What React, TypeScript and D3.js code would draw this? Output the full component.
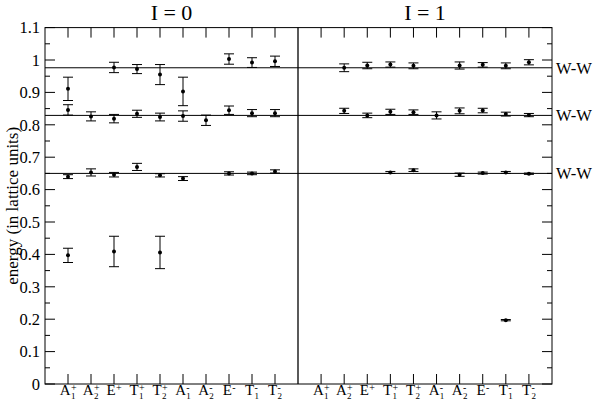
import React from "react";
import * as d3 from "d3";

const categories = ["A1+", "A2+", "E+", "T1+", "T2+", "A1-", "A2-", "E-", "T1-", "T2-"];
const catBase = ["A", "A", "E", "T", "T", "A", "A", "E", "T", "T"];
const catSup = ["+", "+", "+", "+", "+", "-", "-", "-", "-", "-"];
const catSub = ["1", "2", "", "1", "2", "1", "2", "", "1", "2"];

const panelTitles = ["I = 0", "I = 1"];
const wwLevels = [0.976, 0.829, 0.65];
const wwLabel = "W-W";
const yTicks = [0, 0.1, 0.2, 0.3, 0.4, 0.5, 0.6, 0.7, 0.8, 0.9, 1, 1.1];
const yTickLabels = ["0", "0.1", "0.2", "0.3", "0.4", "0.5", "0.6", "0.7", "0.8", "0.9", "1", "1.1"];
const yMinorTicks = [0.05, 0.15, 0.25, 0.35, 0.45, 0.55, 0.65, 0.75, 0.85, 0.95, 1.05];
const yLabel = "energy (in lattice units)";

// I = 0 panel
const i0Upper = [0.911, null, 0.977, 0.972, 0.955, 0.903, null, 1.003, 0.992, 0.996];
const i0UpperErr = [0.036, null, 0.016, 0.014, 0.031, 0.044, null, 0.016, 0.015, 0.016];
const i0Middle = [0.846, 0.826, 0.819, 0.834, 0.824, 0.827, 0.814, 0.845, 0.836, 0.836];
const i0MiddleErr = [0.016, 0.014, 0.013, 0.011, 0.012, 0.016, 0.016, 0.013, 0.011, 0.011];
const i0Lower = [0.64, 0.653, 0.646, 0.67, 0.644, 0.634, null, 0.65, 0.65, 0.656];
const i0LowerErr = [0.006, 0.011, 0.007, 0.011, 0.005, 0.006, null, 0.005, 0.004, 0.005];
const i0Low = [0.397, null, 0.409, null, 0.406, null, null, null, null, null];
const i0LowErr = [0.022, null, 0.047, null, 0.05, null, null, null, null, null];

// I = 1 panel
const i1Upper = [null, 0.976, 0.983, 0.986, 0.982, null, 0.983, 0.985, 0.982, 0.993];
const i1UpperErr = [null, 0.012, 0.01, 0.008, 0.009, null, 0.011, 0.007, 0.009, 0.008];
const i1Middle = [null, 0.843, 0.829, 0.84, 0.839, 0.829, 0.843, 0.844, 0.833, 0.83];
const i1MiddleErr = [null, 0.008, 0.007, 0.008, 0.007, 0.011, 0.009, 0.007, 0.006, 0.005];
const i1Lower = [null, null, null, 0.653, 0.66, null, 0.646, 0.651, 0.653, 0.649];
const i1LowerErr = [null, null, null, 0.003, 0.004, null, 0.005, 0.003, 0.003, 0.002];
const i1Low = [null, null, null, null, null, null, null, null, 0.197, null];
const i1LowErr = [null, null, null, null, null, null, null, null, 0.002, null];

const FONT = '"Times New Roman", Times, "Liberation Serif", Tinos, "Noto Serif", "DejaVu Serif", serif';

export default function App() {
  const W = 596;
  const H = 407;
  const left = 45;
  const mid = 298;
  const right = 552;
  const top = 27.6;
  const bottom = 384;

  const y = d3.scaleLinear().domain([0, 1.1]).range([bottom, top]);
  const xL = d3.scaleLinear().domain([0, 11]).range([left, mid]);
  const xR = d3.scaleLinear().domain([0, 11]).range([mid, right]);

  const panels = [
    {
      x: xL,
      title: panelTitles[0],
      series: [
        [i0Upper, i0UpperErr],
        [i0Middle, i0MiddleErr],
        [i0Lower, i0LowerErr],
        [i0Low, i0LowErr],
      ],
    },
    {
      x: xR,
      title: panelTitles[1],
      series: [
        [i1Upper, i1UpperErr],
        [i1Middle, i1MiddleErr],
        [i1Lower, i1LowerErr],
        [i1Low, i1LowErr],
      ],
    },
  ];

  const stroke = "#000";
  const txt = { fontFamily: FONT } as React.CSSProperties;

  return (
    <svg width={W} height={H} style={{ position: "absolute", left: 0, top: 0, background: "#fff", fontFamily: FONT }}>
      <rect x={0} y={0} width={W} height={H} fill="#fff" />
      {wwLevels.map((v, i) => (
        <g key={"ww" + i}>
          <line x1={left} x2={right} y1={y(v)} y2={y(v)} stroke={stroke} strokeWidth={1} />
          <text x={556} y={y(v)} dy="0.35em" fontSize={16.5} fill="#000" style={txt}>
            {wwLabel}
          </text>
        </g>
      ))}
      <rect x={left} y={top} width={right - left} height={bottom - top} fill="none" stroke={stroke} strokeWidth={1} />
      <line x1={mid} x2={mid} y1={top} y2={bottom} stroke={stroke} strokeWidth={1.3} />
      {yTicks.map((t, i) => (
        <g key={"yt" + i}>
          <line x1={left} x2={left + 10} y1={y(t)} y2={y(t)} stroke={stroke} />
          <line x1={right} x2={right - 10} y1={y(t)} y2={y(t)} stroke={stroke} />
          <text x={40} y={y(t)} dy="0.35em" textAnchor="end" fontSize={16.5} fill="#000" style={txt}>
            {yTickLabels[i]}
          </text>
        </g>
      ))}
      {yMinorTicks.map((t, i) => (
        <g key={"ym" + i}>
          <line x1={left} x2={left + 5} y1={y(t)} y2={y(t)} stroke={stroke} />
          <line x1={right} x2={right - 5} y1={y(t)} y2={y(t)} stroke={stroke} />
        </g>
      ))}
      <text
        transform={`translate(18,${(top + bottom) / 2}) rotate(-90)`}
        textAnchor="middle"
        fontSize={17}
        fill="#000"
        style={txt}
      >
        {yLabel}
      </text>
      {panels.map((p, pi) => (
        <g key={"p" + pi}>
          <text x={(p.x(0) + p.x(11)) / 2} y={20} textAnchor="middle" fontSize={22} fill="#000" style={txt}>
            {p.title}
          </text>
          {categories.map((c, ci) => {
            const cx = p.x(ci + 1);
            const baseW = catBase[ci] === "A" ? 10.8 : 9.2;
            const supW = catSup[ci] === "+" ? 5.6 : 3.3;
            const subW = catSub[ci] ? 4.8 : 0;
            const total = baseW + Math.max(supW, subW);
            const x0 = cx - total / 2;
            return (
              <g key={"c" + ci}>
                <line x1={cx} x2={cx} y1={top} y2={top + 10} stroke={stroke} />
                <line x1={cx} x2={cx} y1={bottom} y2={bottom - 10} stroke={stroke} />
                <text x={x0} y={395} fontSize={15} fill="#000" style={txt}>
                  {catBase[ci]}
                </text>
                <text x={x0 + baseW + 0.3} y={390.5} fontSize={10} fill="#000" style={txt}>
                  {catSup[ci]}
                </text>
                {catSub[ci] ? (
                  <text x={x0 + baseW + 0.3} y={399} fontSize={9} fill="#000" style={txt}>
                    {catSub[ci]}
                  </text>
                ) : null}
              </g>
            );
          })}
          {p.series.map(([vals, errs], si) =>
            vals.map((v, ci) => {
              if (v == null) return null;
              const e = errs[ci] as number;
              const cx = p.x(ci + 1);
              return (
                <g key={"s" + si + "-" + ci}>
                  <line x1={cx} x2={cx} y1={y(v - e)} y2={y(v + e)} stroke={stroke} />
                  <line x1={cx - 5} x2={cx + 5} y1={y(v - e)} y2={y(v - e)} stroke={stroke} />
                  <line x1={cx - 5} x2={cx + 5} y1={y(v + e)} y2={y(v + e)} stroke={stroke} />
                  <circle cx={cx} cy={y(v)} r={2} fill="#000" />
                </g>
              );
            })
          )}
        </g>
      ))}
    </svg>
  );
}
